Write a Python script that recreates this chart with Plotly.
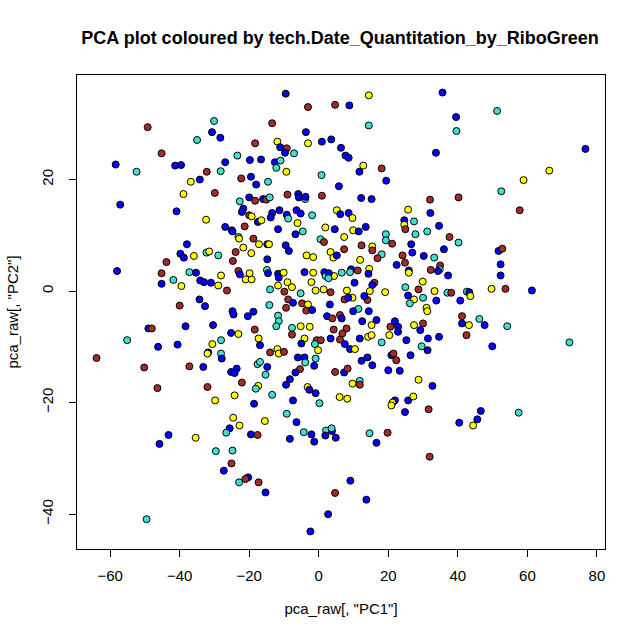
import plotly.graph_objects as go

# Levels of tech.Date_Quantitation_by_RiboGreen (coded) and their fill colours
level_colours = {"A": "#0000FF", "B": "#A52A2A", "C": "#40E0D0", "D": "#FFFF00"}

pc1 = [
    # upper left
    -49.2, -45.2, -58.4, -52.4, -41.3, -39.6, -36.8, -38.9, -57.1, -40.9,
    # upper centre-left
    -9.5, -3.1, -13.4, -30.1, -30.7, -28.3, -35.0, -18.3, -11.9, -11.1,
    -9.2, -9.7, -7.1, -3.7, -3.1, 0.9, -23.4, -26.9, -19.8, -16.6,
    -12.6, -11.0, -12.2, -9.3, -32.2, -28.2, -34.2, -22.3, -19.5, -18.0,
    -14.6, 0.8, -29.9, -22.7, -20.0, -18.3, -16.0, -15.1, -14.1, -9.0,
    -5.9, -5.7, -3.9, -3.8, 0.9, -21.7, -22.1, -20.0, -19.3, -13.4,
    -13.8, -11.3, -9.2, -8.8, -6.4, -5.2, -1.9, -32.4, -26.9, -25.0,
    -21.3, -17.5, -16.5, -11.7, -6.1, -4.6, 1.9,
    # upper centre-right
    14.4, 4.7, 8.8, 35.6, 39.5, 39.6, 14.4, 3.6, 6.4, 7.7,
    8.6, 33.7, 12.8, 11.7, 18.1, 19.4, 5.8, 12.2, 15.2, 32.0,
    40.2, 5.2, 6.2, 8.6, 9.7, 25.7, 32.1, 24.6, 27.4, 24.6,
    34.6, 13.5, 4.6, 9.9, 11.5, 24.9, 31.2,
    # upper right
    51.3, 76.7, 66.3, 58.9, 52.5, 57.8,
    # middle left
    -37.9, -39.8, -38.8, -43.8, -58.0, -45.2, -41.8, -37.2, -45.2, -39.5,
    -40.0, -38.3, -49.0, -48.0, -55.1, -46.2, -40.6, -63.9, -50.2, -37.2,
    -46.4,
    # lower left
    -43.2, -45.8, -49.5,
    # middle centre-left
    -24.8, -23.1, -22.9, -18.8, -17.2, -14.8, -14.3, -6.7, 0.5, 1.5,
    -9.5, -8.6, -35.9, -32.3, -31.5, -28.9, -23.9, -21.7, -19.4, -14.8,
    -24.7, -3.5, -1.6, -35.3, -34.1, -33.0, -31.0, -28.9, -28.1, -26.4,
    -23.1, -22.7, -21.0, -19.3, -19.9, -14.9, -14.6, -11.7, -10.1, -11.5,
    -9.0, -11.7, -7.7, -14.0, -4.1, -1.6, 1.6, 2.0, -2.1, -0.9,
    1.4, -5.2, -9.9, -8.8, -7.4, -9.4, -4.8, -3.1, -3.6, -1.9,
    2.4, -34.3, -32.7, -14.2, -24.8, -24.5, -18.8, -20.4, -11.7, -11.5,
    -12.2, -30.4, -18.4, -7.7, -7.7, -5.2, -2.6, -25.2, -23.1, -28.1,
    -17.3, -16.9, -30.6, -4.1, -5.0, -0.6, 0.6, -1.1, -0.2, -31.8,
    -32.0, -28.1, -27.9, -14.0, -11.9, -11.5, -10.0, -6.0, -4.1, -0.9,
    -33.2, -17.6, -16.9, -14.8, -15.3, -23.6, -25.2, -24.2, -5.4, -6.7,
    -1.3, -3.9, -8.3, -9.4, -22.1, -17.4, -3.2,
    # lower centre-left
    -32.0, -24.2, -29.8, -18.1, -13.4, -18.6, -2.7, -0.9, -7.4, 0.2,
    -24.6, -22.8, -25.6, -26.6, -15.5, -9.2, -6.4, -4.3, -2.1, -1.3,
    2.1, 1.9, -19.5, -17.6, -8.3, -35.4, -29.6, -24.8, -25.1, -27.3,
    -20.3, -21.1, -22.9, -17.3, -15.3, 2.7, -2.4,
    # lower centre-right
    6.0, 8.2, 21.9, 21.2, 20.9, 25.7, 27.2, 24.8, 31.6, 40.4,
    3.8, 3.7, 4.9, 14.6, 19.8, 16.6, 31.9, 9.1, 4.7, 13.7,
    # lower right
    46.6, 45.6, 44.4, 57.5,
    # middle right
    51.7, 52.8, 52.3, 52.3, 49.7, 53.7, 61.3, 42.6, 43.3, 43.6,
    46.2, 47.7, 43.2, 54.2, 42.5, 49.9, 72.1,
    # middle centre-right
    7.3, 19.3, 19.3, 21.1, 27.8, 37.6, 40.2, 26.6, 36.0, 12.3,
    15.4, 15.4, 18.1, 16.9, 7.3, 3.4, 4.2, 5.2, 11.9, 24.1,
    26.9, 30.2, 33.2, 24.8, 22.4, 34.9, 34.8, 34.3, 32.2, 37.2,
    25.9, 25.9, 14.5, 14.3, 11.2, 9.3, 9.0, 6.6, 4.4, 2.9,
    2.8, 10.3, 16.0, 15.4, 29.9, 19.1, 14.7, 14.0, 13.1, 8.1,
    3.4, 9.7, 7.4, 8.5, 24.9, 28.7, 25.7, 27.4, 26.2, 30.0,
    33.3, 37.0, 38.1, 33.8, 40.7, 3.2, 31.0, 31.2, 30.0, 29.2,
    27.4, 41.2, 41.2, 11.4, 9.9, 14.4, 6.1, 6.6, 3.9, 12.5,
    16.6, 15.2, 20.6, 21.9, 22.8, 22.8, 20.3, 14.2, 15.2, 11.8,
    4.3, 8.0, 6.8, 6.1, 3.4, 7.5, 9.0, 10.4, 18.1, 25.2,
    31.4, 34.6, 29.6, 31.3, 20.9, 21.5, 22.3, 26.4, 12.3, 14.0,
    15.4, 20.0, 23.3, 4.7, 7.3, 8.3, 28.7, 32.7, 9.7, 11.8,
    11.8,
]

pc2 = [
    # upper left
    29.4, 24.7, 22.7, 21.4, 22.5, 22.6, 19.6, 17.4, 15.5, 14.3,
    # upper centre-left
    35.4, 33.0, 30.1, 30.5, 28.5, 27.5, 27.1, 26.5, 26.8, 25.8,
    25.6, 24.8, 24.7, 28.5, 26.5, 26.8, 24.3, 23.1, 23.5, 23.6,
    23.1, 23.4, 22.1, 21.4, 21.4, 21.5, 20.0, 20.2, 20.5, 19.1,
    19.6, 20.8, 17.6, 16.1, 16.8, 16.2, 16.5, 16.4, 16.8, 17.3,
    17.4, 16.8, 16.5, 16.9, 17.1, 14.8, 14.2, 13.6, 13.4, 14.0,
    13.2, 14.5, 13.7, 13.0, 14.5, 13.9, 13.6, 12.8, 11.5, 10.9,
    11.6, 12.4, 12.7, 11.1, 12.2, 10.7, 11.4,
    # upper centre-right
    35.1, 33.4, 33.3, 35.6, 31.2, 28.7, 29.7, 27.2, 25.7, 24.3,
    23.9, 24.8, 22.5, 21.4, 22.0, 19.8, 18.8, 16.7, 16.5, 16.4,
    16.8, 14.5, 13.8, 14.0, 13.1, 14.6, 14.0, 12.7, 12.5, 11.9,
    11.7, 11.5, 11.1, 10.9, 10.7, 11.1, 10.7,
    # upper right
    32.3, 25.5, 21.6, 19.9, 17.9, 14.5,
    # middle left
    8.4, 6.7, 6.0, 5.2, 3.6, 3.2, 2.0, 3.4, 1.3, 0.9,
    -2.6, -6.3, -6.7, -6.7, -8.8, -10.0, -9.6, -12.0, -13.7, -13.5,
    -17.4,
    # lower left
    -25.8, -27.4, -40.9,
    # middle centre-left
    10.7, 9.7, 9.4, 9.4, 8.4, 8.4, 8.4, 10.2, 9.3, 8.8,
    8.2, 7.2, 6.3, 6.9, 7.1, 6.4, 7.0, 7.8, 6.8, 5.7,
    5.4, 6.4, 6.1, 3.3, 1.9, 1.6, 1.5, 1.0, 2.8, 0.1,
    3.6, 3.0, 2.1, 2.1, 3.2, 3.8, 3.2, 3.1, 3.3, 2.4,
    1.6, 1.0, 0.7, 0.3, 3.4, 3.3, 3.4, 2.7, 1.6, 0.1,
    0.3, -0.4, -0.1, -1.5, -2.1, -3.0, -2.2, -2.4, -3.5, -3.4,
    -4.5, -1.5, -2.7, -2.5, -3.6, -4.2, -3.7, -4.5, -4.4, -5.4,
    -6.3, -6.1, -6.9, -6.6, -7.8, -6.3, -6.4, -7.5, -7.7, -8.8,
    -8.5, -9.7, -9.5, -8.5, -9.4, -8.8, -8.8, -9.5, -10.6, -11.0,
    -11.2, -11.2, -12.1, -11.0, -10.4, -11.2, -10.9, -11.9, -11.9, -12.1,
    -13.6, -13.1, -12.7, -13.6, -15.0, -13.9, -14.5, -14.7, -14.0, -14.6,
    -13.4, -12.8, -15.8, -16.8, -16.4, -17.0, -17.2,
    # lower centre-left
    -17.2, -18.7, -19.6, -17.5, -18.6, -20.2, -17.7, -18.3, -19.6, -20.1,
    -22.7, -24.1, -24.6, -25.4, -23.3, -22.0, -23.5, -25.3, -25.7, -27.0,
    -25.0, -25.9, -25.7, -25.8, -26.5, -26.3, -28.7, -28.6, -30.9, -32.2,
    -33.4, -33.7, -34.3, -34.3, -36.1, -40.0, -43.1,
    # lower centre-right
    -19.0, -19.3, -19.6, -20.0, -20.5, -19.6, -18.9, -21.7, -21.2, -23.6,
    -25.1, -24.6, -26.3, -25.5, -25.4, -27.2, -29.7, -34.0, -36.2, -37.4,
    # lower right
    -21.5, -23.0, -24.1, -21.8,
    # middle right
    7.2, 7.6, 4.8, 2.8, 0.4, 0.4, 0.1, -0.1, -0.2, -0.9,
    -5.0, -6.1, -6.1, -6.3, -7.9, -9.9, -9.2,
    # middle centre-right
    9.7, 10.2, 9.1, 8.5, 10.2, 9.7, 8.7, 8.4, 7.5, 8.2,
    8.0, 7.3, 6.6, 5.9, 7.5, 7.0, 6.0, 6.4, 5.6, 6.4,
    6.9, 6.3, 6.0, 5.1, 4.7, 4.6, 3.9, 3.6, 3.8, 2.8,
    3.7, 3.3, 4.0, 3.1, 3.7, 3.9, 3.4, 3.3, 2.7, 3.2,
    2.3, 1.5, 1.5, 1.1, 1.7, -0.2, 0.0, -1.6, -0.9, 0.1,
    -0.2, -1.2, -1.5, -1.2, 0.7, 0.3, -0.8, -1.5, -2.2, -1.2,
    0.0, -0.3, -0.3, -1.7, -1.7, -2.4, -3.0, -3.6, -5.8, -7.0,
    -6.1, -4.5, -5.8, -3.2, -3.6, -3.6, -4.3, -4.9, -4.9, -5.4,
    -5.2, -6.1, -6.4, -5.4, -6.4, -7.3, -7.9, -8.2, -7.9, -8.5,
    -6.9, -6.7, -7.6, -8.7, -8.5, -9.5, -10.4, -10.4, -9.2, -8.8,
    -8.5, -8.2, -9.9, -10.6, -11.5, -11.2, -12.4, -11.5, -12.5, -11.9,
    -13.3, -14.2, -14.3, -14.5, -14.6, -13.9, -15.9, -17.0, -16.6, -16.1,
    -16.8,
]

batch = list(
    # upper left
    "BBACAADDAA"
    # upper centre-left
    "ABBCAACBDA" "BACADACAAA" "ACCDBCABAA" "CCBCABABCB" "AACABAABDA"
    "AAACAACDAA" "BADADCD"
    # upper centre-right
    "DBAAACCAAA" "AADABAAAAB" "BDAADDAACD" "AAADABC"
    # upper right
    "CADDCB"
    # middle left
    "AAABABCCAD" "BAABCAABBB" "B"
    # lower left
    "AAC"
    # middle centre-left
    "ACDBDADACB" "AADCDCBDDA" "BDDAAAADDB" "BADDDCAADA" "DDDCADACDD"
    "DCBBABBDBA" "AAACAAAACC" "CABCBDDADC" "DADDABBCDA" "DCABDDBAAC"
    "ACCACAAABA" "ACAABDD"
    # lower centre-left
    "BDDCCAAAAC" "DDACDCACAA" "CAABADCCBA" "ABCBAAA"
    # lower centre-right
    "DDADDADABA" "ACACBABABA"
    # lower right
    "AADC"
    # middle right
    "ABAADBACAD" "CADCBAC"
    # middle centre-right
    "DCCBCBCAAB" "DBCBBDDADB" "AACBABCABA" "ADDABACCDA" "CABADDDBAD"
    "BDBACBADCC" "DCBAAADDBA" "DBACAABABA" "ADBAAADDDA" "BBBBAAADCA"
    "AACAABBAAA" "AAABABDADC" "B"
)

assert len(pc1) == len(pc2) == len(batch), (len(pc1), len(pc2), len(batch))

def padded(v):
    lo, hi = min(v), max(v)
    d = 0.04 * (hi - lo)
    return [lo - d, hi + d]

font_family = "Liberation Sans, Arial, Helvetica, sans-serif"

fig = go.Figure(go.Scatter(
    x=pc1, y=pc2, mode="markers",
    marker=dict(size=7, color=[level_colours[g] for g in batch],
                line=dict(color="black", width=1)),
    hoverinfo="skip",
))

axis_common = dict(
    showgrid=False, zeroline=False, showline=True, mirror=True,
    linecolor="black", linewidth=1, ticks="outside", ticklen=7,
    tickcolor="black", tickwidth=1,
    tickfont=dict(family=font_family, size=15, color="black"),
)

fig.update_xaxes(range=padded(pc1), tickmode="array",
                 tickvals=[-60, -40, -20, 0, 20, 40, 60, 80],
                 title=dict(text='pca_raw[, "PC1"]', standoff=20,
                            font=dict(family=font_family, size=15, color="black")),
                 ticklabelstandoff=6, **axis_common)
fig.update_yaxes(range=padded(pc2), tickmode="array",
                 tickvals=[-40, -20, 0, 20], tickangle=-90,
                 title=dict(text='pca_raw[, "PC2"]', standoff=16,
                            font=dict(family=font_family, size=15, color="black")),
                 ticklabelstandoff=10, **axis_common)

fig.update_layout(
    width=644, height=644,
    margin=dict(l=75, r=39, t=75, b=95),
    paper_bgcolor="white", plot_bgcolor="white",
    showlegend=False,
    title=dict(text="<b>PCA plot coloured by tech.Date_Quantitation_by_RiboGreen</b>",
               x=340/644, xanchor="center", y=1-38/644, yanchor="middle",
               font=dict(family=font_family, size=18, color="black")),
)

fig.write_html("out.html")
